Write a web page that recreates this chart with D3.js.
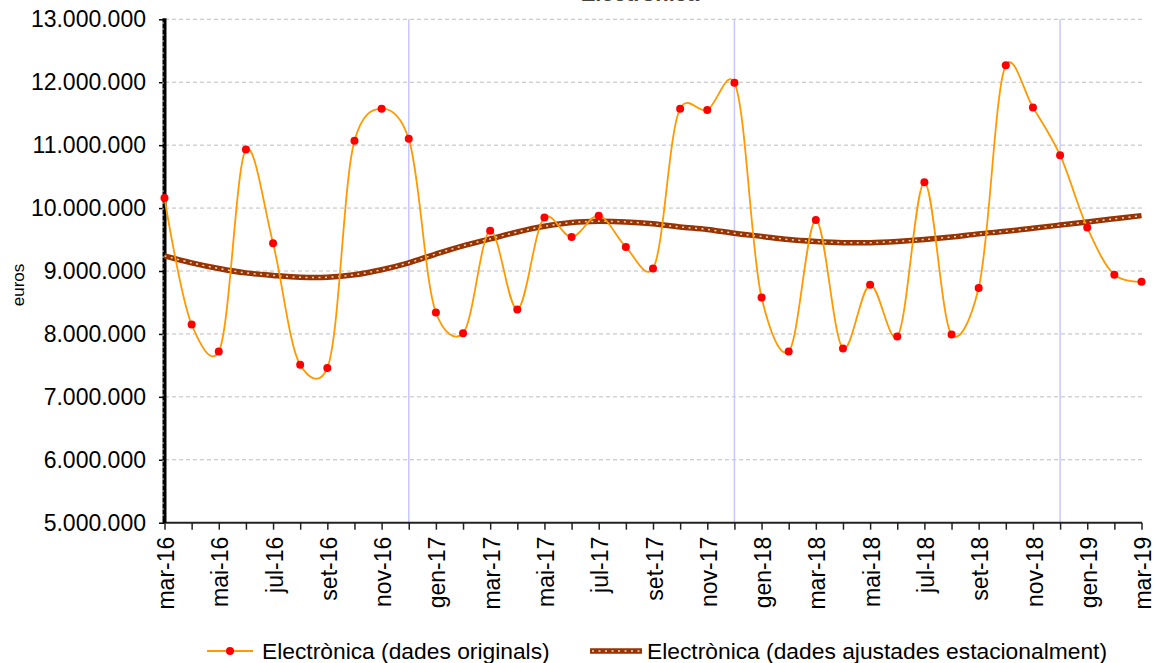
<!DOCTYPE html>
<html>
<head>
<meta charset="utf-8">
<script src="https://cdn.jsdelivr.net/npm/d3@7"></script>
<style>
  body { margin: 0; background: #fff; }
  svg { font-family: Arial, "Liberation Sans", sans-serif; }
</style>
</head>
<body>
<svg id="chart"></svg>
<script>
// months mar-16 .. mar-19
const months = ["mar-16","abr-16","mai-16","jun-16","jul-16","ago-16","set-16","oct-16","nov-16","des-16",
  "gen-17","feb-17","mar-17","abr-17","mai-17","jun-17","jul-17","ago-17","set-17","oct-17","nov-17","des-17",
  "gen-18","feb-18","mar-18","abr-18","mai-18","jun-18","jul-18","ago-18","set-18","oct-18","nov-18","des-18",
  "gen-19","feb-19","mar-19"]

// dades originals (euros)
const original = [10160000, 8150000, 7720000, 10930000, 9440000, 7510000, 7460000, 11070000, 11580000, 11100000,
  8340000, 8010000, 9640000, 8390000, 9850000, 9540000, 9880000, 9380000, 9040000, 11580000, 11560000, 11990000,
  8580000, 7720000, 9810000, 7770000, 8780000, 7960000, 10410000, 7990000, 8730000, 12270000, 11600000, 10840000,
  9690000, 8940000, 8830000]

// dades ajustades estacionalment (euros)
const adjusted = [9240000, 9130000, 9040000, 8970000, 8930000, 8900000, 8900000, 8940000, 9020000, 9130000,
  9270000, 9400000, 9510000, 9620000, 9710000, 9770000, 9790000, 9780000, 9750000, 9700000, 9660000, 9600000,
  9550000, 9500000, 9470000, 9450000, 9450000, 9470000, 9500000, 9540000, 9590000, 9630000, 9680000, 9730000,
  9780000, 9830000, 9880000]

const yTicks = [5000000, 6000000, 7000000, 8000000, 9000000, 10000000, 11000000, 12000000, 13000000]
const yearMarks = ["des-16", "des-17", "des-18"]
const seriesNames = ["Electrònica (dades originals)", "Electrònica (dades ajustades estacionalment)"]

const width = 1155, height = 663
const svg = d3.select("#chart").attr("width", width).attr("height", height)

const x = d3.scalePoint().domain(months).range([164.5, 1141.5])
const y = d3.scaleLinear().domain([5000000, 13000000]).range([522.7, 19.3])

const loc = d3.formatLocale({decimal: ",", thousands: ".", grouping: [3], currency: ["", "€"]})
const fmt = loc.format(",.0f")

// title (cut off at the top of the picture, as in the original)
svg.append("text")
  .attr("x", 640).attr("y", 1)
  .attr("text-anchor", "middle")
  .attr("font-size", 22).attr("font-weight", "bold")
  .attr("fill", "#444")
  .text("Electrònica")

// gridlines
svg.append("g")
  .selectAll("line")
  .data(yTicks.slice(1))
  .enter()
  .append("line")
  .attr("x1", 165).attr("x2", 1142)
  .attr("y1", d => y(d)).attr("y2", d => y(d))
  .attr("stroke", "#bdbdbd")
  .attr("stroke-dasharray", "4,3")

// year separators
svg.append("g")
  .selectAll("line")
  .data(yearMarks)
  .enter()
  .append("line")
  .attr("x1", d => x(d)).attr("x2", d => x(d))
  .attr("y1", y(13000000)).attr("y2", y(5000000))
  .attr("stroke", "#c8c8ff")
  .attr("stroke-width", 1.5)

// x axis
const xAxis = d3.axisBottom(x)
  .tickSize(7)
  .tickFormat((d, i) => i % 2 === 0 ? d : "")
const gx = svg.append("g")
  .attr("transform", `translate(0,${y(5000000)})`)
  .call(xAxis)
gx.select(".domain").attr("stroke", "#222").attr("stroke-width", 2).attr("d", "M163,0H1142")
gx.selectAll(".tick line").attr("stroke", "#222").attr("stroke-width", 1.5)
gx.selectAll(".tick text")
  .attr("font-size", 23)
  .attr("fill", "#000")
  .attr("text-anchor", "end")
  .attr("transform", "rotate(-90)")
  .attr("x", -14).attr("y", 1)
  .attr("dy", "0.35em")

// y axis
const yAxis = d3.axisLeft(y).tickValues(yTicks).tickSize(5).tickPadding(13).tickFormat(fmt)
const gy = svg.append("g")
  .attr("transform", "translate(164,0)")
  .call(yAxis)
gy.select(".domain").remove()
gy.selectAll(".tick line").attr("stroke", "#000").attr("stroke-width", 1.5)
gy.selectAll(".tick text").attr("font-size", 23).attr("fill", "#000")

svg.append("line")
  .attr("x1", 164.5).attr("x2", 164.5)
  .attr("y1", y(13000000) - 1).attr("y2", y(5000000))
  .attr("stroke", "#000").attr("stroke-width", 4)
svg.append("line")
  .attr("x1", 163).attr("x2", 163)
  .attr("y1", y(13000000) + 3).attr("y2", y(5000000) - 3)
  .attr("stroke", "#fff").attr("stroke-width", 1)
  .attr("stroke-dasharray", "1.5,4.5")

svg.append("text")
  .attr("transform", "translate(24,285) rotate(-90)")
  .attr("text-anchor", "middle")
  .attr("font-size", 17)
  .text("euros")

// smoothed lines, like the spreadsheet's smoothing
const lineSmooth = d3.line()
  .x((d, i) => x(months[i]))
  .y(d => y(d))
  .curve(d3.curveCatmullRom.alpha(0.2))

svg.append("path")
  .datum(adjusted)
  .attr("d", lineSmooth)
  .attr("fill", "none")
  .attr("stroke", "#993300")
  .attr("stroke-width", 5.5)
svg.append("path")
  .datum(adjusted)
  .attr("d", lineSmooth)
  .attr("fill", "none")
  .attr("stroke", "#e8d8cc")
  .attr("stroke-width", 1.5)
  .attr("stroke-dasharray", "2,4.5")

// original series
svg.append("path")
  .datum(original)
  .attr("d", lineSmooth)
  .attr("fill", "none")
  .attr("stroke", "#ff9900")
  .attr("stroke-width", 1.8)

svg.append("g")
  .selectAll("circle")
  .data(original)
  .enter()
  .append("circle")
  .attr("cx", (d, i) => x(months[i]))
  .attr("cy", d => y(d))
  .attr("r", 4)
  .attr("fill", "#ff0000")

// legend
const leg = svg.append("g").attr("font-size", 22.8)
leg.append("line")
  .attr("x1", 207).attr("x2", 253).attr("y1", 651).attr("y2", 651)
  .attr("stroke", "#ff9900").attr("stroke-width", 1.8)
leg.append("circle").attr("cx", 230).attr("cy", 651).attr("r", 4).attr("fill", "#ff0000")
leg.append("text").attr("x", 262).attr("y", 651).attr("dy", "0.35em").text(seriesNames[0])

leg.append("line")
  .attr("x1", 590).attr("x2", 642).attr("y1", 651).attr("y2", 651)
  .attr("stroke", "#993300").attr("stroke-width", 5.5)
leg.append("line")
  .attr("x1", 592).attr("x2", 642).attr("y1", 651).attr("y2", 651)
  .attr("stroke", "#e8d8cc").attr("stroke-width", 1.5)
  .attr("stroke-dasharray", "2,4.5")
leg.append("text").attr("x", 647).attr("y", 651).attr("dy", "0.35em").text(seriesNames[1])
</script>
</body>
</html>
